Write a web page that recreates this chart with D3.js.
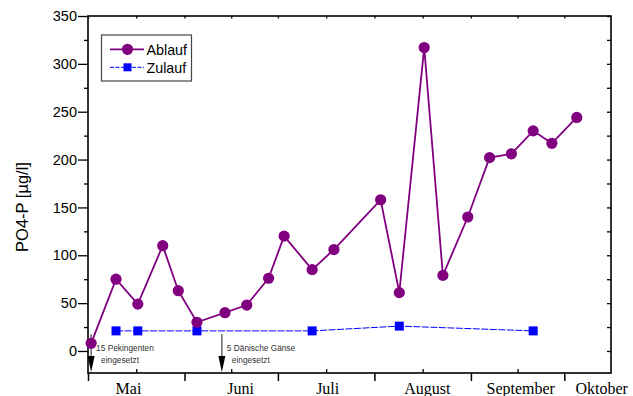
<!DOCTYPE html>
<html>
<head>
<meta charset="utf-8">
<script src="https://cdn.jsdelivr.net/npm/d3@7"></script>
<style>
  html, body { margin: 0; padding: 0; background: #fff; }
  svg { display: block; }
</style>
</head>
<body>
<svg id="chart" width="633" height="396"></svg>
<script>
// Sampling dates (month-day) and PO4-P concentrations in µg/l
const ablaufDates = ["05-02","05-10","05-17","05-25","05-30","06-05","06-14","06-21","06-28","07-03","07-12","07-19","08-03","08-09","08-17","08-23","08-31","09-07","09-14","09-21","09-27","10-05"];
const ablaufValues = [8, 75, 49, 110, 63, 30, 40, 48, 76, 120, 85, 106, 158, 61, 317, 79, 140, 202, 206, 230, 217, 244];

const zulaufDates = ["05-10","05-17","06-05","07-12","08-09","09-21"];
const zulaufValues = [21, 21, 21, 21, 26, 21];

// Month names and the dates where they are written under the axis
const monthLabels = ["Mai","Juni","Juli","August","September","Oktober"];
const monthLabelDates = ["05-14","06-19","07-17","08-18","09-17","10-13"];
const monthStarts = ["05-01","06-01","07-01","08-01","09-01","10-01"];

// Event markers
const eventDates = ["05-02","06-13"];
const eventLines1 = ["15 Pekingenten","5 Dänische Gänse"];
const eventLines2 = ["eingesetzt","eingesetzt"];

const yTicks = [0, 50, 100, 150, 200, 250, 300, 350];
const yMinorTicks = [25, 75, 125, 175, 225, 275, 325];

(function draw() {
  const parse = d3.utcParse("%m-%d");
  const svg = d3.select("#chart");

  const pL = 88, pR = 611, pT = 16, pB = 373;
  const x = d3.scaleUtc().domain([parse("05-01"), parse("10-16")]).range([pL, pR]);
  const y = d3.scaleLinear().domain([-23, 350]).range([pB, pT]);

  const sans = "Arial, 'Liberation Sans', sans-serif";
  const serif = "'Times New Roman', 'Liberation Serif', serif";

  // Minor x ticks sit halfway between month starts
  const starts = monthStarts.map(parse);
  const mids = starts.slice(0, -1).map((d, i) => new Date((+d + +starts[i + 1]) / 2));

  const styleTicks = (g, w) => {
    g.select(".domain").remove();
    g.selectAll("line").attr("stroke", "#000").attr("stroke-width", w);
  };

  // Left axis with labels
  svg.append("g").attr("transform", `translate(${pL},0)`)
    .call(d3.axisLeft(y).tickValues(yTicks).tickSizeInner(10).tickSizeOuter(0).tickPadding(1))
    .call(g => styleTicks(g, 1.3))
    .call(g => g.selectAll("text").attr("font-family", sans).attr("font-size", 14.5).attr("fill", "#000"));
  svg.append("g").attr("transform", `translate(${pL},0)`)
    .call(d3.axisLeft(y).tickValues(yMinorTicks).tickSize(4).tickFormat(""))
    .call(g => styleTicks(g, 1.3));

  // Right axis: short inward ticks every 25
  svg.append("g").attr("transform", `translate(${pR},0)`)
    .call(d3.axisLeft(y).tickValues(yTicks.concat(yMinorTicks)).tickSize(4).tickFormat(""))
    .call(g => styleTicks(g, 1.3));

  // Bottom axis: month starts outward, mid-month inward
  svg.append("g").attr("transform", `translate(0,${pB})`)
    .call(d3.axisBottom(x).tickValues(starts).tickSizeInner(8).tickSizeOuter(0).tickFormat(""))
    .call(g => styleTicks(g, 1.5));
  svg.append("g").attr("transform", `translate(0,${pB})`)
    .call(d3.axisTop(x).tickValues(mids).tickSize(4).tickFormat(""))
    .call(g => styleTicks(g, 1.3));

  // Top axis: short inward ticks
  svg.append("g").attr("transform", `translate(0,${pT})`)
    .call(d3.axisBottom(x).tickValues(starts.concat(mids)).tickSize(2.5).tickFormat(""))
    .call(g => styleTicks(g, 1.3));

  // Frame
  svg.append("rect").attr("x", pL).attr("y", pT).attr("width", pR - pL).attr("height", pB - pT)
    .attr("fill", "none").attr("stroke", "#000").attr("stroke-width", 1.6);

  // Month labels
  svg.append("g").selectAll("text").data(monthLabels).join("text")
    .attr("x", (d, i) => x(parse(monthLabelDates[i])))
    .attr("y", 394)
    .attr("text-anchor", "middle")
    .attr("font-family", serif).attr("font-size", 16).attr("fill", "#000")
    .text(d => d);

  // Y title
  svg.append("text")
    .attr("transform", "translate(28,207) rotate(-90)")
    .attr("text-anchor", "middle")
    .attr("font-family", sans).attr("font-size", 16.5).attr("fill", "#000")
    .text("PO4-P [µg/l]");

  // Event arrows and notes
  const ev = svg.append("g");
  eventDates.forEach((d, i) => {
    const ex = x(parse(d));
    ev.append("line").attr("x1", ex).attr("x2", ex).attr("y1", 334).attr("y2", 358)
      .attr("stroke", "#444").attr("stroke-width", 1.2);
    ev.append("path").attr("d", `M${ex - 3.5},356 L${ex + 3.5},356 L${ex},372 Z`).attr("fill", "#000");
    ev.append("text").attr("x", ex + 5).attr("y", 351)
      .attr("font-family", sans).attr("font-size", 8.3).attr("fill", "#333").text(eventLines1[i]);
    ev.append("text").attr("x", ex + 10).attr("y", 363)
      .attr("font-family", sans).attr("font-size", 8.3).attr("fill", "#333").text(eventLines2[i]);
  });

  // Zulauf series
  const zData = zulaufDates.map((d, i) => ({ date: parse(d), v: zulaufValues[i] }));
  svg.append("path").datum(zData)
    .attr("d", d3.line().x(d => x(d.date)).y(d => y(d.v)))
    .attr("fill", "none").attr("stroke", "#0000ff").attr("stroke-width", 1).attr("stroke-dasharray", "7,1.5");
  svg.append("g").selectAll("rect").data(zData).join("rect")
    .attr("x", d => x(d.date) - 4.5).attr("y", d => y(d.v) - 4.5)
    .attr("width", 9).attr("height", 9).attr("fill", "#0000ff");

  // Ablauf series
  const aData = ablaufDates.map((d, i) => ({ date: parse(d), v: ablaufValues[i] }));
  svg.append("path").datum(aData)
    .attr("d", d3.line().x(d => x(d.date)).y(d => y(d.v)))
    .attr("fill", "none").attr("stroke", "#800080").attr("stroke-width", 1.8);
  svg.append("g").selectAll("circle").data(aData).join("circle")
    .attr("cx", d => x(d.date)).attr("cy", d => y(d.v)).attr("r", 5.6)
    .attr("fill", "#800080");

  // Legend
  const lg = svg.append("g");
  lg.append("rect").attr("x", 101.5).attr("y", 35).attr("width", 90).attr("height", 46)
    .attr("fill", "#fff").attr("stroke", "#444").attr("stroke-width", 1.2);
  lg.append("line").attr("x1", 110).attr("x2", 144).attr("y1", 49.3).attr("y2", 49.3)
    .attr("stroke", "#800080").attr("stroke-width", 1.8);
  lg.append("circle").attr("cx", 127.5).attr("cy", 49.3).attr("r", 5.6).attr("fill", "#800080");
  lg.append("line").attr("x1", 110).attr("x2", 144).attr("y1", 67.3).attr("y2", 67.3)
    .attr("stroke", "#0000ff").attr("stroke-width", 1).attr("stroke-dasharray", "4,1.5");
  lg.append("rect").attr("x", 123.5).attr("y", 63.3).attr("width", 8).attr("height", 8).attr("fill", "#0000ff");
  lg.append("text").attr("x", 146.5).attr("y", 54.5)
    .attr("font-family", sans).attr("font-size", 14.3).attr("fill", "#000").text("Ablauf");
  lg.append("text").attr("x", 146.5).attr("y", 72.5)
    .attr("font-family", sans).attr("font-size", 14.3).attr("fill", "#000").text("Zulauf");
})();
</script>
</body>
</html>
